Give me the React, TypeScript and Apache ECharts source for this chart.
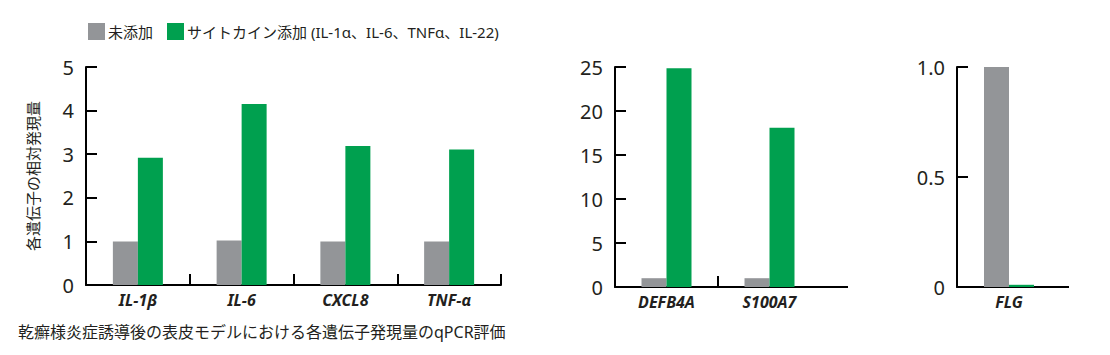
import React, { useEffect, useRef } from "react";
import * as echarts from "echarts";

const legendNames = ["未添加", "サイトカイン添加 (IL-1α、IL-6、TNFα、IL-22)"];

const cats1 = ["IL-1β", "IL-6", "CXCL8", "TNF-α"];
const ctrl1 = [1.0, 1.02, 1.0, 1.0];
const cyto1 = [2.92, 4.15, 3.19, 3.11];

const cats2 = ["DEFB4A", "S100A7"];
const ctrl2 = [1.0, 1.0];
const cyto2 = [24.85, 18.1];

const cats3 = ["FLG"];
const ctrl3 = [1.0];
const cyto3 = [0.01];

const yMax = [5, 25, 1];
const yInterval = [1, 5, 0.5];

const title = "乾癬様炎症誘導後の表皮モデルにおける各遺伝子発現量のqPCR評価";
const yName = "各遺伝子の相対発現量";

const GRAY = "#939598";
const GREEN = "#00A04F";
const INK = "#231F20";
const FONT = "'Noto Sans', 'Noto Sans CJK JP', sans-serif";

export default function App() {
  const ref = useRef<HTMLDivElement>(null);
  useEffect(() => {
    document.body.style.margin = "0";
    if (!ref.current) return;
    const chart = echarts.init(ref.current, null, { renderer: "svg" });

    const grids = [
      { left: 86, top: 67, width: 415, height: 218 },
      { left: 615, top: 67, width: 206, height: 220 },
      { left: 957, top: 67, width: 104, height: 220 },
    ];
    const catsAll = [cats1, cats2, cats3];
    const ctrlAll = [ctrl1, ctrl2, ctrl3];
    const cytoAll = [cyto1, cyto2, cyto3];

    const xAxis = catsAll.map((c, i) => ({
      type: "category",
      gridIndex: i,
      data: c,
      axisLine: { show: true, lineStyle: { color: "#000", width: 2 } },
      axisTick: { show: i === 0, inside: true, length: 11, interval: 0, lineStyle: { color: "#000", width: 2 } },
      axisLabel: {
        color: INK,
        fontFamily: FONT,
        fontSize: 16,
        fontWeight: "bold",
        fontStyle: "italic",
        margin: 7,
        interval: 0,
      },
    }));

    const yAxis = [0, 1, 2].map((i) => ({
      type: "value",
      gridIndex: i,
      min: 0,
      max: yMax[i],
      interval: yInterval[i],
      name: i === 0 ? yName : "",
      nameLocation: "middle",
      nameRotate: 90,
      nameGap: 46,
      nameTextStyle: { color: INK, fontFamily: FONT, fontSize: 15 },
      splitLine: { show: false },
      axisLine: { show: true, lineStyle: { color: "#000", width: 2 } },
      axisTick: { show: true, inside: true, length: 11, lineStyle: { color: "#000", width: 2 } },
      axisLabel: {
        color: INK,
        fontFamily: FONT,
        fontSize: 20,
        margin: 12,
        formatter: (v: number) => (i === 2 ? (v === 0 ? "0" : v.toFixed(1)) : String(v)),
      },
    }));

    const series: any[] = [];
    [0, 1, 2].forEach((i) => {
      series.push({
        name: legendNames[0],
        type: "bar",
        xAxisIndex: i,
        yAxisIndex: i,
        data: ctrlAll[i],
        barWidth: 25,
        barGap: "0%",
        itemStyle: { color: GRAY },
      });
      series.push({
        name: legendNames[1],
        type: "bar",
        xAxisIndex: i,
        yAxisIndex: i,
        data: cytoAll[i],
        barWidth: 25,
        barGap: "0%",
        itemStyle: { color: GREEN },
      });
    });

    const g2 = grids[1];
    const g3 = grids[2];
    const g2base = g2.top + g2.height;
    const g3base = g3.top + g3.height;
    const band2 = g2.width / cats2.length;

    chart.setOption({
      animation: false,
      backgroundColor: "#fff",
      textStyle: { fontFamily: FONT },
      legend: {
        left: 88,
        top: 23,
        padding: 0,
        itemWidth: 17,
        itemHeight: 17,
        itemGap: 14,
        icon: "rect",
        selectedMode: false,
        data: legendNames,
        textStyle: { color: INK, fontFamily: FONT, fontSize: 15, padding: [0, 0, 0, -2] },
      },
      grid: grids,
      xAxis,
      yAxis,
      series,
      graphic: [
        {
          type: "line",
          shape: { x1: g2.left + band2, y1: g2base, x2: g2.left + band2, y2: g2base - 11 },
          style: { stroke: "#000", lineWidth: 2 },
        },
        {
          type: "line",
          shape: { x1: g2.left + g2.width - 1, y1: g2base, x2: 848, y2: g2base },
          style: { stroke: "#000", lineWidth: 2 },
        },
        {
          type: "line",
          shape: { x1: g3.left + g3.width - 1, y1: g3base, x2: 1069, y2: g3base },
          style: { stroke: "#000", lineWidth: 2 },
        },
        {
          type: "text",
          left: 18,
          top: 324,
          style: { text: title, fill: INK, font: `16px ${FONT}` },
        },
      ],
    });
    return () => chart.dispose();
  }, []);
  return <div ref={ref} style={{ width: 1110, height: 355 }} />;
}
